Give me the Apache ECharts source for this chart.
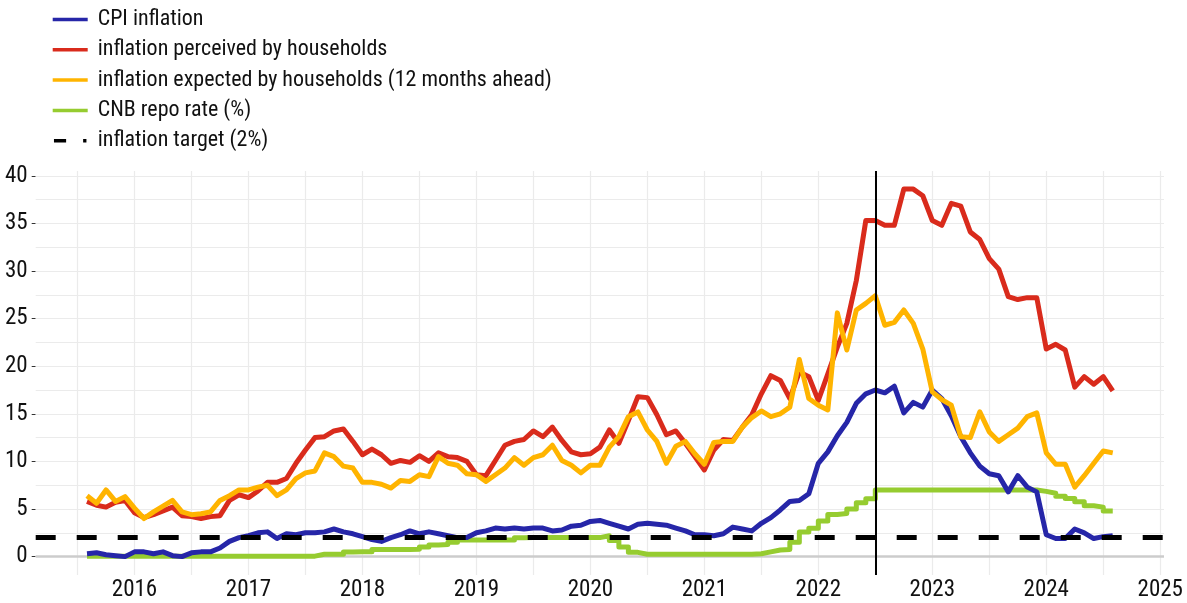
<!DOCTYPE html>
<html><head><meta charset="utf-8">
<script src="https://cdn.jsdelivr.net/npm/echarts@6/dist/echarts.min.js"></script>
<style>html,body{margin:0;padding:0;background:#fff}#c{width:1187px;height:603px}</style>
</head><body><div id="c"></div><script>
// Monthly data, first observation Aug 2015, last Aug 2024
const startYear = 2015, startMonth = 8;
const cpi = [0.3,0.4,0.2,0.1,0.0,0.5,0.5,0.3,0.5,0.1,0.0,0.4,0.5,0.5,0.9,1.6,2.0,2.2,2.5,2.6,1.9,2.4,2.3,2.5,2.5,2.6,2.9,2.6,2.4,2.1,1.8,1.6,2.0,2.3,
  2.7,2.4,2.6,2.4,2.2,2.0,2.0,2.5,2.7,3.0,2.9,3.0,2.9,3.0,3.0,2.7,2.8,3.2,3.3,3.7,3.8,3.5,3.2,2.9,3.4,3.5,3.4,3.3,3.0,2.7,2.3,2.3,2.2,2.4,3.1,2.9,2.7,3.5,4.1,4.9,
  5.8,5.9,6.6,9.8,11.0,12.7,14.1,16.1,17.1,17.5,17.2,17.9,15.1,16.2,15.7,17.5,16.6,14.8,12.6,10.9,9.5,8.7,8.5,6.8,8.5,7.3,6.8,2.3,1.9,1.9,2.9,2.5,1.9,2.1,2.2];
const perceived = [5.8,5.4,5.2,5.7,5.9,4.6,4.1,4.4,4.8,5.2,4.3,4.2,4.0,4.2,4.3,5.9,6.5,6.2,6.9,7.8,7.8,8.2,9.8,11.2,12.5,12.6,13.2,13.4,12.1,10.7,11.3,10.7,9.8,10.1,
  9.9,10.6,10.0,10.9,10.5,10.4,10.0,8.6,8.5,10.1,11.7,12.1,12.3,13.2,12.6,13.6,12.2,11.0,10.7,10.8,11.5,13.3,11.9,14.3,16.8,16.7,14.9,12.8,13.2,11.9,10.5,9.1,11.2,12.3,12.2,13.6,14.9,17.1,19.0,18.5,
  16.6,19.4,18.9,16.4,19.2,22.0,24.5,29.0,35.3,35.3,34.8,34.8,38.6,38.6,37.9,35.3,34.8,37.1,36.8,34.1,33.3,31.3,30.2,27.3,27.0,27.2,27.2,21.8,22.3,21.7,17.8,18.9,18.1,18.9,17.4];
const expected = [6.4,5.6,7.0,5.8,6.3,5.1,4.0,4.7,5.3,5.9,4.7,4.4,4.5,4.7,5.9,6.4,7.0,7.0,7.3,7.5,6.4,7.0,8.2,8.8,9.0,10.9,10.5,9.5,9.3,7.8,7.8,7.6,7.2,8.0,
  7.9,8.6,8.4,10.5,9.8,9.6,8.7,8.6,7.9,8.6,9.3,10.4,9.6,10.4,10.7,11.7,10.1,9.6,8.8,9.6,9.6,11.5,12.6,14.7,15.2,13.3,12.1,9.8,11.6,12.1,10.8,9.7,12.0,12.1,12.1,13.6,14.6,15.3,14.7,15.0,
  15.7,20.7,16.6,15.9,15.4,25.6,21.7,25.9,26.6,27.4,24.3,24.6,25.9,24.5,21.8,17.3,16.5,15.9,12.6,12.5,15.2,13.1,12.1,12.8,13.5,14.7,15.1,10.9,9.7,9.7,7.3,8.5,9.8,11.1,10.9];
const repo = [0.05,0.05,0.05,0.05,0.05,0.05,0.05,0.05,0.05,0.05,0.05,0.05,0.05,0.05,0.05,0.05,0.05,0.05,0.05,0.05,0.05,0.05,0.05,0.05,
  0.25,0.25,0.25,0.48,0.5,0.5,0.74,0.75,0.75,0.75,0.78,1.0,1.23,1.28,1.5,1.74,1.75,1.75,1.75,1.75,1.75,1.98,
  2.0,2.0,2.0,2.0,2.0,2.0,2.0,2.0,2.2,1.7,1.0,0.45,0.25,0.25,0.25,0.25,0.25,0.25,0.25,0.25,0.25,0.25,0.25,0.25,
  0.3,0.5,0.7,0.75,1.5,2.58,2.98,3.75,4.43,4.52,5.0,5.65,6.08,
  7.0,7.0,7.0,7.0,7.0,7.0,7.0,7.0,7.0,7.0,7.0,7.0,7.0,7.0,7.0,7.0,7.0,
  6.85,6.65,6.35,6.1,5.75,5.35,5.2,4.8,4.75];
const target = 2;
const markerDate = 2022.5; // July 2022
const yearTicks = [2016,2017,2018,2019,2020,2021,2022,2023,2024,2025];
const halfYearGrid = [2015.5,2016.5,2017.5,2018.5,2019.5,2020.5,2021.5,2022.5,2023.5,2024.5];
const yTicks = [0,5,10,15,20,25,30,35,40];
const yMinorGrid = [2.5,7.5,12.5,17.5,22.5,27.5,32.5,37.5];
const names = ['CPI inflation','inflation perceived by households','inflation expected by households (12 months ahead)','CNB repo rate (%)','inflation target (2%)'];
const colors = ['#2626a8','#d92b1c','#ffb400','#96cc30','#000000'];

const toPairs = arr => arr.map((v,i)=>[startYear + (startMonth-1+i)/12, v]);
const FONT = "'Liberation Sans Narrow','Arial Narrow','Roboto Condensed','DejaVu Sans Condensed',sans-serif";

const lineSeries = (name, data, color, extra) => Object.assign({
  name, type:'line', data: toPairs(data), showSymbol:false, symbol:'none', z:3,
  lineStyle:{color, width:5, cap:'butt', join:'round'}, itemStyle:{color}, silent:true
}, extra||{});

const chart = echarts.init(document.getElementById('c'), null, {renderer:'canvas'});
chart.setOption({
  animation:false,
  backgroundColor:'#fff',
  textStyle:{fontFamily:FONT},
  grid:{left:35.7, right:23, top:171, bottom:28, containLabel:false},
  legend:{
    orient:'vertical', left:47.7, top:3.5, itemWidth:35, itemHeight:3.5, itemGap:8.3,
    textStyle:{fontFamily:FONT, fontSize:22, color:'#111', padding:[0,0,0,5]},
    data:[
      {name:names[0], icon:'rect'},{name:names[1], icon:'rect'},{name:names[2], icon:'rect'},{name:names[3], icon:'rect'},
      {name:names[4], icon:'path://M0,0H12.5V3.6H0Z M30,0H33.4V3.6H30Z'}
    ]
  },
  xAxis:{type:'value', min:2015.133, max:2025.033,
    axisLine:{show:false}, splitLine:{show:false},
    axisTick:{show:true, length:4, lineStyle:{color:'#aaaaaa'}, customValues:yearTicks},
    axisLabel:{fontFamily:FONT, fontSize:23, color:'#111', margin:4, customValues:yearTicks, formatter:v=>String(Math.round(v))}
  },
  yAxis:{type:'value', min:-1.93, max:40.5,
    axisLine:{show:false}, splitLine:{show:false},
    axisTick:{show:true, length:4, lineStyle:{color:'#333'}, customValues:yTicks},
    axisLabel:{fontFamily:FONT, fontSize:23, color:'#111', margin:8, customValues:yTicks}
  },
  series:[
    {name:'grid', type:'line', data:[], silent:true, z:0,
      markLine:{silent:true, z:1, symbol:['none','none'], label:{show:false}, animation:false,
        lineStyle:{color:'#ebebeb', width:1.2, type:'solid'},
        data:[...yearTicks.map(v=>({xAxis:v})), ...halfYearGrid.map(v=>({xAxis:v})),
              ...yTicks.map(v=>({yAxis:v})), ...yMinorGrid.map(v=>({yAxis:v})),
              {yAxis:0, lineStyle:{color:'#cccccc', width:2.5}}]}},
    lineSeries(names[3], repo, colors[3], {step:'end'}),
    lineSeries(names[0], cpi, colors[0]),
    lineSeries(names[1], perceived, colors[1]),
    lineSeries(names[2], expected, colors[2]),
    {name:names[4], type:'line', data:[], itemStyle:{color:'#000'}, lineStyle:{color:'#000'}, z:4,
      markLine:{silent:true, z:6, symbol:['none','none'], label:{show:false}, animation:false,
        lineStyle:{color:'#000', width:5, type:[20,21], cap:'butt'},
        data:[{yAxis:target}]}},
    {name:'marker', type:'line', data:[], silent:true, z:4,
      markLine:{silent:true, z:7, symbol:['none','none'], label:{show:false}, animation:false,
        lineStyle:{color:'#000', width:2, type:'solid'},
        data:[{xAxis:markerDate}]}}
  ]
});
</script></body></html>
